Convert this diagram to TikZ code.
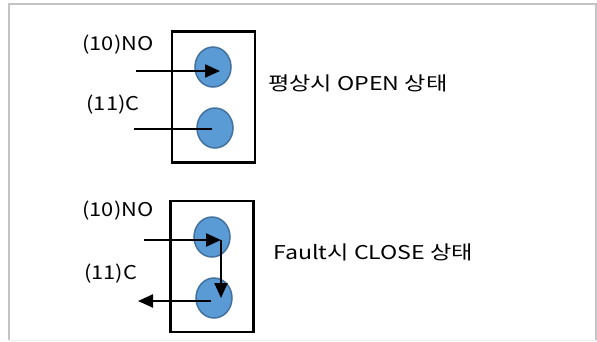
\documentclass[tikz,border=0pt]{standalone}
\usepackage{fontspec}
\setmainfont{Noto Sans CJK KR}
\newfontfamily\pinfont[FakeStretch=1.15]{Noto Sans CJK KR}
\newfontfamily\statefont[FakeStretch=1.22]{Noto Sans CJK KR}
\usetikzlibrary{arrows.meta,shapes.geometric}
\definecolor{contactfill}{HTML}{5B9BD5}
\definecolor{contactedge}{HTML}{41719C}
\definecolor{framegray}{HTML}{C4C4C4}
\begin{document}
\begin{tikzpicture}[x=1pt,y=-1pt,
    contact/.style={ellipse,draw=contactedge,fill=contactfill,line width=1.5pt,
      minimum width=36pt,minimum height=40pt,inner sep=0pt},
    relaybox/.style={draw,line width=2.4pt,minimum width=83pt,minimum height=131pt,inner sep=0pt},
    wire/.style={line width=2.2pt},
    tip/.style={-{Triangle[length=15pt,width=13pt]}},
    pinlabel/.style={font=\pinfont\fontsize{19}{21}\selectfont,inner sep=0pt},
    statelabel/.style={font=\statefont\fontsize{19}{21}\selectfont,inner sep=0pt,anchor=west}]
  \useasboundingbox (0,0) rectangle (597,341);
  \draw[framegray,line width=1.5pt] (9,340) -- (9,4) -- (596,4) -- (596,340);
  \draw[framegray!30,line width=0.8pt] (9,340) -- (596,340);

  % normal state
  \node[relaybox] (box1) at (213.5,97) {};
  \node[contact] (no1) at (213,67) {};
  \node[contact] (c1) at (215,128) {};
  \node[pinlabel] (no1label) at (118,45) {(10)NO};
  \node[pinlabel] (c1label) at (113,105) {(11)C};
  \node[statelabel] (open) at (268,83) {평상시 OPEN 상태};
  \coordinate (no1in) at (136,71);
  \coordinate (c1in) at (134,129);
  \draw[wire,tip] (no1in) -- ([xshift=7pt]no1.center |- no1in);
  \draw[wire] (c1in) -- ([xshift=-3pt]c1.center |- c1in);

  % fault state
  \node[relaybox] (box2) at (212,266.7) {};
  \node[contact] (no2) at (212,237) {};
  \node[contact] (c2) at (214,298) {};
  \node[pinlabel] (no2label) at (118,211) {(10)NO};
  \node[pinlabel] (c2label) at (110.5,274) {(11)C};
  \node[statelabel] (close) at (273,252) {Fault시 CLOSE 상태};
  \coordinate (no2in) at (144,240);
  \coordinate (turn) at (221,240);
  \coordinate (c2out) at (138,301);
  \draw[wire,tip] (no2in) -- (turn);
  \draw[wire,tip] (turn) -- (turn |- c2.center);
  \draw[wire,tip] ([xshift=-3pt]c2.center |- c2out) -- (c2out);
\end{tikzpicture}
\end{document}
